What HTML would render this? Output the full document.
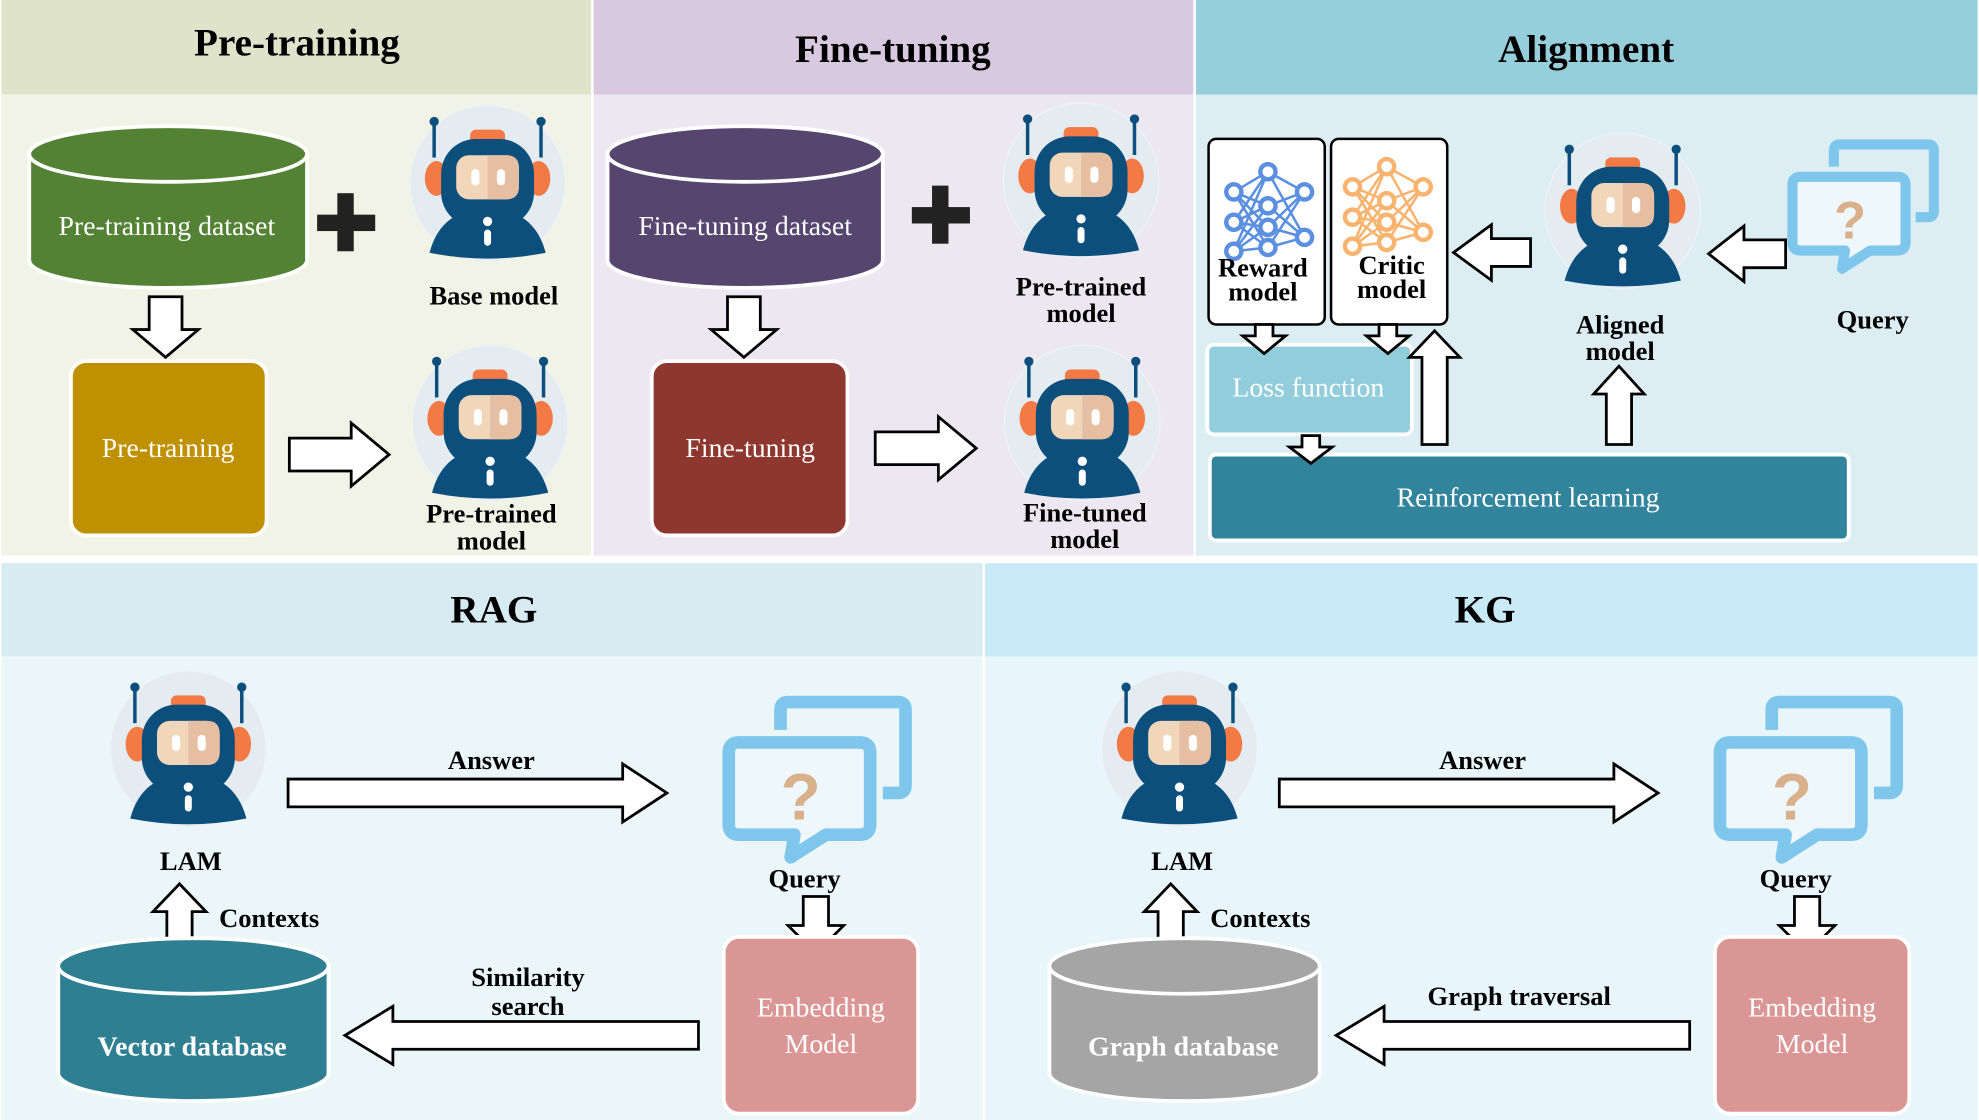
<!DOCTYPE html>
<html><head><meta charset="utf-8"><style>
html,body{margin:0;padding:0;background:#fff}
svg{display:block}
.h{font-family:"Liberation Serif",serif;font-weight:bold;font-size:31px;fill:#000;text-anchor:middle}
.l{font-family:"Liberation Serif",serif;font-weight:bold;font-size:21px;fill:#000;text-anchor:middle}
.w{font-family:"Liberation Serif",serif;font-size:22px;fill:#fff;text-anchor:middle}
.wb{font-family:"Liberation Serif",serif;font-weight:bold;font-size:22px;fill:#fff;text-anchor:middle}
.ar{fill:#fff;stroke:#000;stroke-width:2.2;stroke-linejoin:miter}
</style></head><body>
<svg width="1979" height="1120" viewBox="0 0 1565 887" xmlns="http://www.w3.org/2000/svg">
<defs>
<g id="robot"><g transform="translate(0,-5) scale(0.92)">
<circle cx="0" cy="0" r="67" fill="#e4ecf2" stroke="#eef3f6"/>
<line x1="-46" y1="-52" x2="-46" y2="-22" stroke="#0d4f7c" stroke-width="3"/>
<line x1="46" y1="-52" x2="46" y2="-22" stroke="#0d4f7c" stroke-width="3"/>
<circle cx="-46" cy="-53" r="4" fill="#0d4f7c"/><circle cx="46" cy="-53" r="4" fill="#0d4f7c"/>
<rect x="-15" y="-46" width="30" height="14" rx="5" fill="#f47a45"/>
<ellipse cx="-44" cy="-4" rx="10" ry="15" fill="#f47a45"/>
<ellipse cx="44" cy="-4" rx="10" ry="15" fill="#f47a45"/>
<rect x="-40" y="-38" width="80" height="76" rx="30" fill="#0d4f7c"/>
<rect x="-27" y="-24" width="54" height="38" rx="11" fill="#f2d6ba"/>
<path d="M0,-24 H16 Q27,-24 27,-13 V3 Q27,14 16,14 H0Z" fill="#e6bea2"/>
<rect x="-14" y="-12" width="7" height="14" rx="3.5" fill="#fff"/>
<rect x="8" y="-12" width="7" height="14" rx="3.5" fill="#fff"/>
<path d="M-50,60 Q-40,22 0,22 Q40,22 50,60 Q0,70 -50,60Z" fill="#0d4f7c"/>
<circle cx="0" cy="33" r="4" fill="#fff"/><rect x="-3" y="40" width="6" height="14" rx="3" fill="#fff"/>
</g></g>
<g id="query">
<path d="M44,25 V9 Q44,3 50,3 H137 Q143,3 143,9 V69 Q143,75 137,75 H125" fill="none" stroke="#7ec6ec" stroke-width="10"/>
<path d="M11,35 H107 Q115,35 115,43 V100 Q115,108 107,108 H80 L52,126 L55,108 H11 Q3,108 3,100 V43 Q3,35 11,35Z" fill="#eef7fb" stroke="#7ec6ec" stroke-width="10" stroke-linejoin="round"/>
<text x="60" y="96" font-family="Liberation Sans,sans-serif" font-weight="bold" font-size="52" fill="#d9b08c" text-anchor="middle">?</text>
</g>
</defs>
<!-- panels -->
<rect x="0" y="0" width="467" height="75" fill="#dfe3c9"/><rect x="0" y="75" width="467" height="365" fill="#f1f3e6"/>
<rect x="469" y="0" width="475" height="75" fill="#d8c9e0"/><rect x="469" y="75" width="475" height="365" fill="#ede7f1"/>
<rect x="946" y="0" width="619" height="75" fill="#96cedc"/><rect x="946" y="75" width="619" height="365" fill="#dcedf3"/>
<rect x="0" y="446" width="777" height="74" fill="#d7ecf2"/><rect x="0" y="520" width="777" height="367" fill="#ebf6f9"/>
<rect x="779" y="446" width="786" height="74" fill="#c9ebf7"/><rect x="779" y="520" width="786" height="367" fill="#e8f6fb"/>
<text class="h" x="234" y="44">Pre-training</text>
<text class="h" x="706" y="49">Fine-tuning</text>
<text class="h" x="1255" y="49">Alignment</text>
<text class="h" x="390" y="493">RAG</text>
<text class="h" x="1175" y="493">KG</text>

<!-- Pre-training -->
<path d="M22,122 V206 A110,22 0 0 0 242,206 V122Z" fill="#548235" stroke="#fff" stroke-width="3"/>
<ellipse cx="132" cy="122" rx="110" ry="22" fill="#548235" stroke="#fff" stroke-width="3"/>
<text class="w" x="131" y="186">Pre-training dataset</text>
<rect x="266" y="153" width="13" height="46" fill="#222"/><rect x="250" y="170" width="46" height="13" fill="#222"/>
<use href="#robot" x="385" y="150"/>
<text class="l" x="390" y="241">Base model</text>
<polygon class="ar" points="117,235 143,235 143,261 156,261 130,283 104,261 117,261"/>
<rect x="55" y="286" width="155" height="138" rx="12" fill="#bf9000" stroke="#fff" stroke-width="3"/>
<text class="w" x="132" y="362">Pre-training</text>
<polygon class="ar" points="228,347 277,347 277,335 307,360 277,385 277,373 228,373"/>
<use href="#robot" x="387" y="340"/>
<text class="l" x="388" y="414">Pre-trained</text><text class="l" x="388" y="435">model</text>

<!-- Fine-tuning -->
<path d="M480,122 V206 A109,22 0 0 0 698,206 V122Z" fill="#56456e" stroke="#fff" stroke-width="3"/>
<ellipse cx="589" cy="122" rx="109" ry="22" fill="#56456e" stroke="#fff" stroke-width="3"/>
<text class="w" x="589" y="186">Fine-tuning dataset</text>
<rect x="737" y="147" width="13" height="46" fill="#222"/><rect x="721" y="164" width="46" height="13" fill="#222"/>
<use href="#robot" x="855" y="148"/>
<text class="l" x="855" y="234">Pre-trained</text><text class="l" x="855" y="255">model</text>
<polygon class="ar" points="575,235 601,235 601,261 614,261 588,283 562,261 575,261"/>
<rect x="515" y="286" width="155" height="138" rx="12" fill="#8e372f" stroke="#fff" stroke-width="3"/>
<text class="w" x="593" y="362">Fine-tuning</text>
<polygon class="ar" points="692,342 742,342 742,330 772,355 742,380 742,368 692,368"/>
<use href="#robot" x="856" y="340"/>
<text class="l" x="858" y="413">Fine-tuned</text><text class="l" x="858" y="434">model</text>

<!-- Alignment -->
<rect x="956" y="110" width="92" height="147" rx="6" fill="#fff" stroke="#000" stroke-width="2"/>
<rect x="1053" y="110" width="92" height="147" rx="6" fill="#fff" stroke="#000" stroke-width="2"/>
<g stroke="#5b8fe0" stroke-width="2" fill="none">
<path d="M976,152 L1003,136 M976,152 L1003,163 M976,152 L1003,180 M976,152 L1003,196 M976,176 L1003,136 M976,176 L1003,163 M976,176 L1003,180 M976,176 L1003,196 M976,199 L1003,136 M976,199 L1003,163 M976,199 L1003,180 M976,199 L1003,196 M1003,136 L1032,152 M1003,163 L1032,152 M1003,180 L1032,152 M1003,196 L1032,152 M1003,136 L1032,188 M1003,163 L1032,188 M1003,180 L1032,188 M1003,196 L1032,188"/>
<g fill="#fff" stroke-width="3.5"><circle cx="976" cy="152" r="6"/><circle cx="976" cy="176" r="6"/><circle cx="976" cy="199" r="6"/><circle cx="1003" cy="136" r="6"/><circle cx="1003" cy="163" r="6"/><circle cx="1003" cy="180" r="6"/><circle cx="1003" cy="196" r="6"/><circle cx="1032" cy="152" r="6"/><circle cx="1032" cy="188" r="6"/></g>
</g>
<g stroke="#f8b36e" stroke-width="2" fill="none">
<path d="M1070,148 L1097,132 M1070,148 L1097,159 M1070,148 L1097,176 M1070,148 L1097,192 M1070,172 L1097,132 M1070,172 L1097,159 M1070,172 L1097,176 M1070,172 L1097,192 M1070,195 L1097,132 M1070,195 L1097,159 M1070,195 L1097,176 M1070,195 L1097,192 M1097,132 L1126,148 M1097,159 L1126,148 M1097,176 L1126,148 M1097,192 L1126,148 M1097,132 L1126,184 M1097,159 L1126,184 M1097,176 L1126,184 M1097,192 L1126,184"/>
<g fill="#fff" stroke-width="3.5"><circle cx="1070" cy="148" r="6"/><circle cx="1070" cy="172" r="6"/><circle cx="1070" cy="195" r="6"/><circle cx="1097" cy="132" r="6"/><circle cx="1097" cy="159" r="6"/><circle cx="1097" cy="176" r="6"/><circle cx="1097" cy="192" r="6"/><circle cx="1126" cy="148" r="6"/><circle cx="1126" cy="184" r="6"/></g>
</g>
<text class="l" x="999" y="219" font-size="19">Reward</text><text class="l" x="999" y="238" font-size="19">model</text>
<text class="l" x="1101" y="217" font-size="19">Critic</text><text class="l" x="1101" y="236" font-size="19">model</text>
<rect x="955" y="273" width="162" height="71" rx="5" fill="#92cddc" stroke="#fff" stroke-width="3"/>
<text class="w" x="1035" y="314">Loss function</text>
<rect x="957" y="360" width="506" height="68" rx="5" fill="#31849b" stroke="#fff" stroke-width="3"/>
<text class="w" x="1209" y="401">Reinforcement learning</text>
<polygon class="ar" points="993,257 1007,257 1007,266 1017,266 1000,280 983,266 993,266"/>
<polygon class="ar" points="1091,257 1105,257 1105,266 1115,266 1098,280 1081,266 1091,266"/>
<polygon class="ar" points="1030,345 1044,345 1044,354 1054,354 1037,367 1020,354 1030,354"/>
<polygon class="ar" points="1135,262 1155,283 1145,283 1145,352 1125,352 1125,283 1115,283"/>
<polygon class="ar" points="1281,290 1301,312 1291,312 1291,352 1271,352 1271,312 1261,312"/>
<polygon class="ar" points="1211,189 1180,189 1180,178 1150,200 1180,222 1180,211 1211,211"/>
<polygon class="ar" points="1413,190 1380,190 1380,179 1352,201 1380,223 1380,212 1413,212"/>
<use href="#robot" x="1284" y="172"/>
<text class="l" x="1282" y="264">Aligned</text><text class="l" x="1282" y="285">model</text>
<g transform="translate(1416,112) scale(0.8)"><use href="#query"/></g>
<text class="l" x="1482" y="260">Query</text>

<!-- RAG -->
<use href="#robot" x="148" y="598"/>
<text class="l" x="150" y="689">LAM</text>
<polygon class="ar" points="227,617 492,617 492,605 527,628 492,651 492,639 227,639"/>
<text class="l" x="388" y="609">Answer</text>
<use href="#query" x="573" y="553"/>
<text class="l" x="636" y="703">Query</text>
<polygon class="ar" points="635,710 655,710 655,733 667,733 645,755 623,733 635,733"/>
<rect x="572" y="742" width="154" height="140" rx="12" fill="#da9694" stroke="#fff" stroke-width="3"/>
<text class="w" x="649" y="805">Embedding</text><text class="w" x="649" y="834">Model</text>
<polygon class="ar" points="552,809 310,809 310,797 272,820 310,843 310,831 552,831"/>
<text class="l" x="417" y="781">Similarity</text><text class="l" x="417" y="804">search</text>
<polygon class="ar" points="141,700 162,722 151,722 151,750 131,750 131,722 120,722"/>
<text class="l" x="212" y="734">Contexts</text>
<path d="M45,765 V850 A107,22 0 0 0 259,850 V765Z" fill="#2f7f93" stroke="#fff" stroke-width="3"/>
<ellipse cx="152" cy="765" rx="107" ry="22" fill="#2f7f93" stroke="#fff" stroke-width="3"/>
<text class="wb" x="151" y="836">Vector database</text>

<!-- KG -->
<use href="#robot" x="933" y="598"/>
<text class="l" x="935" y="689">LAM</text>
<polygon class="ar" points="1012,617 1277,617 1277,605 1312,628 1277,651 1277,639 1012,639"/>
<text class="l" x="1173" y="609">Answer</text>
<use href="#query" x="1358" y="553"/>
<text class="l" x="1421" y="703">Query</text>
<polygon class="ar" points="1420,710 1440,710 1440,733 1452,733 1430,755 1408,733 1420,733"/>
<rect x="1357" y="742" width="154" height="140" rx="12" fill="#da9694" stroke="#fff" stroke-width="3"/>
<text class="w" x="1434" y="805">Embedding</text><text class="w" x="1434" y="834">Model</text>
<polygon class="ar" points="1337,809 1095,809 1095,797 1057,820 1095,843 1095,831 1337,831"/>
<text class="l" x="1202" y="796">Graph traversal</text>
<polygon class="ar" points="926,700 947,722 936,722 936,750 916,750 916,722 905,722"/>
<text class="l" x="997" y="734">Contexts</text>
<path d="M830,765 V850 A107,22 0 0 0 1044,850 V765Z" fill="#a5a5a5" stroke="#fff" stroke-width="3"/>
<ellipse cx="937" cy="765" rx="107" ry="22" fill="#a5a5a5" stroke="#fff" stroke-width="3"/>
<text class="wb" x="936" y="836">Graph database</text>
</svg>
</body></html>
